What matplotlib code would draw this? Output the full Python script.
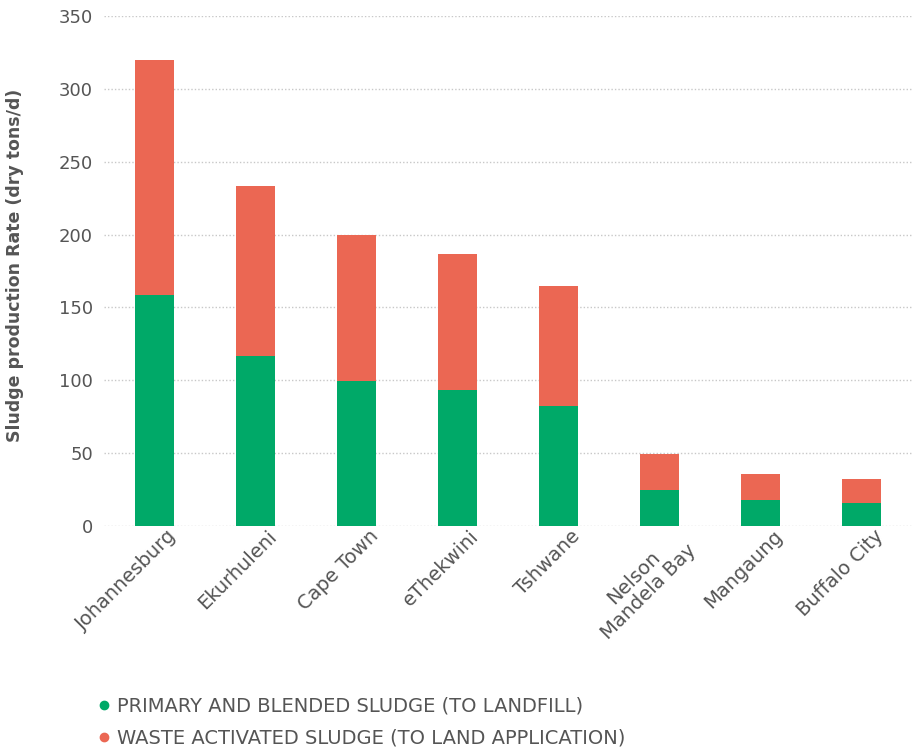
import matplotlib
matplotlib.use("Agg")
import matplotlib.pyplot as plt
import matplotlib.transforms as mtransforms
from matplotlib.lines import Line2D

cities = ["Johannesburg", "Ekurhuleni", "Cape Town", "eThekwini", "Tshwane",
          "Nelson\nMandela Bay", "Mangaung", "Buffalo City"]
primary = [158.5, 117, 99.5, 93.5, 82.5, 25, 18, 16]
was = [161.5, 116, 100.5, 93.5, 82.5, 24.5, 18, 16]
yticks = [0, 50, 100, 150, 200, 250, 300, 350]

green = "#00a968"
red = "#eb6753"
grey = "#555555"

plt.rcParams['font.family'] = ['DejaVu Sans']

fig = plt.figure(figsize=(9.15, 7.47), dpi=100)
ax = fig.add_axes([104/915, 1-526/747, (912-104)/915, (526-16)/747])

x = list(range(len(cities)))
ax.bar(x, primary, width=0.385, color=green, zorder=3)
ax.bar(x, was, width=0.385, bottom=primary, color=red, zorder=3)

ax.set_ylim(0, 350)
ax.set_xlim(-0.5, len(cities) - 0.5)
ax.set_yticks(yticks)
ax.set_yticklabels([str(v) for v in yticks], fontsize=13, color=grey)
ax.set_xticks(x)
ax.set_xticklabels(cities, rotation=45, ha="right", rotation_mode="anchor",
                   fontsize=14, color=grey, multialignment="center",
                   linespacing=1.1)
ax.tick_params(axis="both", length=0, pad=8)
ax.tick_params(axis="x", pad=4)
off = mtransforms.ScaledTranslation(12/100, 5/100, fig.dpi_scale_trans)
for lab in ax.get_xticklabels():
    lab.set_transform(lab.get_transform() + off)
for s in ax.spines.values():
    s.set_visible(False)
ax.grid(axis="y", color="#c8c8c8", linestyle=(0, (1, 1.5)), linewidth=1, zorder=0)
ax.set_ylabel("Sludge production Rate (dry tons/d)", fontsize=12.5, fontweight="bold",
              color=grey)
ax.yaxis.set_label_coords((24-104)/808, (526-265)/510)

handles = [
    Line2D([], [], marker="o", linestyle="none", color=green, markersize=6),
    Line2D([], [], marker="o", linestyle="none", color=red, markersize=6),
]
fig.legend(handles, ["PRIMARY AND BLENDED SLUDGE (TO LANDFILL)",
                     "WASTE ACTIVATED SLUDGE (TO LAND APPLICATION)"],
           loc="upper left", bbox_to_anchor=(96/915, 1-697/747), frameon=False,
           fontsize=14, labelcolor=grey, handletextpad=0.3, handlelength=0.8,
           labelspacing=0.65, borderaxespad=0, borderpad=0)

fig.savefig("out.png", dpi=100)
